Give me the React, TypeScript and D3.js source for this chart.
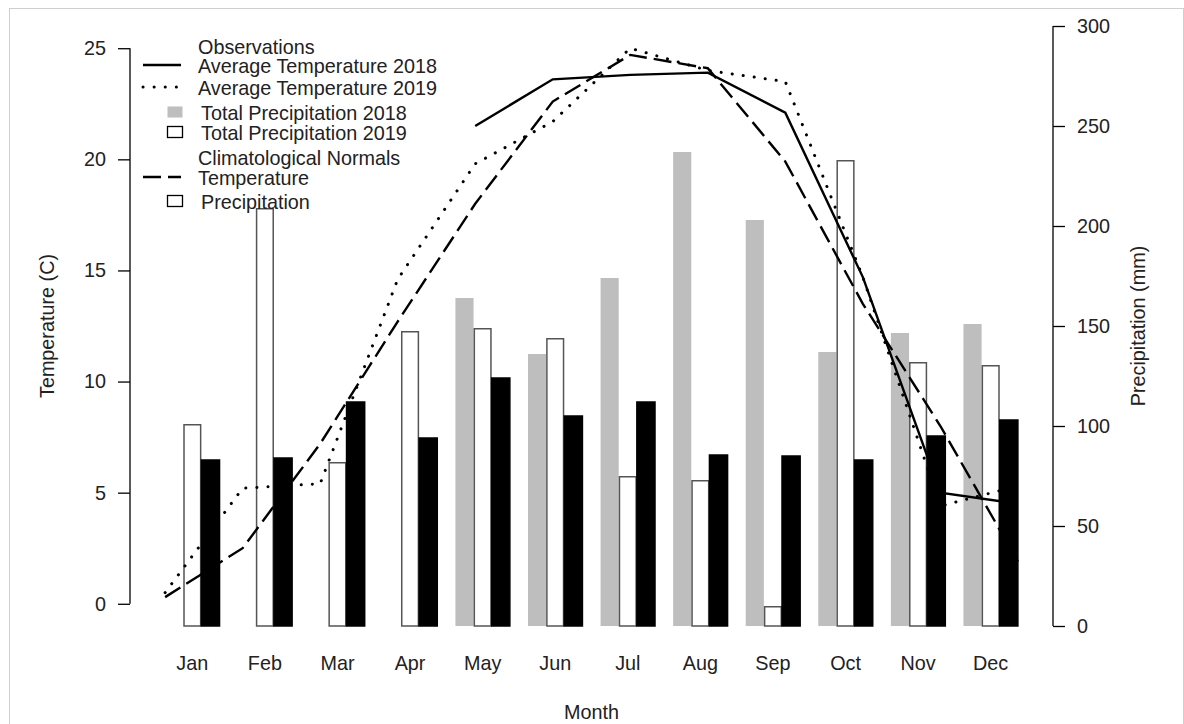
import React, { useEffect, useRef } from 'react'
import * as d3 from 'd3'

const months = ['Jan', 'Feb', 'Mar', 'Apr', 'May', 'Jun', 'Jul', 'Aug', 'Sep', 'Oct', 'Nov', 'Dec']
const temp2018: (number | null)[] = [null, null, null, null, 21.5, 23.6, 23.8, 23.9, 22.1, 14.7, 5.0, 4.5]
const temp2019: (number | null)[] = [0.5, 5.2, 5.4, 14.6, 19.8, 21.7, 25.0, 24.0, 23.5, 14.7, 4.4, 5.3]
const tempNormal: (number | null)[] = [0.3, 2.5, 7.2, 12.7, 18.0, 22.6, 24.7, 24.1, 19.9, 13.5, 8.0, 1.9]
const precip2018: (number | null)[] = [null, null, null, null, 164, 136, 174, 237, 203, 137, 146.5, 151]
const precip2019: (number | null)[] = [101, 209, 82, 147.5, 149, 144, 75, 73, 10, 233, 132, 130.5]
const precipNormal: (number | null)[] = [83, 84, 112, 94, 124, 105, 112, 85.5, 85, 83, 95, 103]
const tempTicks = [0, 5, 10, 15, 20, 25]
const precipTicks = [0, 50, 100, 150, 200, 250, 300]

const FONT = '"Liberation Sans", Arial, sans-serif'
const FS = 19.8
const TXT = '#222'

export default function App() {
    const svgRef = useRef<SVGSVGElement>(null)

    useEffect(() => {
        const left = 131
        const right = 1052
        const top = 26
        const bottom = 626

        const svg = d3.select(svgRef.current)
        svg.selectAll('*').remove()

        // frame of the image
        svg.append('rect')
            .attr('x', 9.5).attr('y', 8.5)
            .attr('width', 1174).attr('height', 716)
            .attr('fill', 'none').attr('stroke', '#cfcfcf')

        // bar units like R barplot (beside, space = c(0,1)), x from 1 to 48 padded 4%
        const barX = d3.scaleLinear().domain([-0.88, 49.88]).range([left, right])
        const xMonth = d3.scaleBand().domain(months).range([barX(0), barX(48)])
        const xSeries = d3.scaleBand()
            .domain(['gap', 'p2018', 'p2019', 'norm'])
            .range([0, xMonth.bandwidth()])

        const lineX = d3.scaleLinear().domain([0.56, 12.44]).range([left, right])
        const tempY = d3.scaleLinear().domain([-1, 26]).range([bottom, top])
        const precipY = d3.scaleLinear().domain([0, 300]).range([bottom, top])

        const series = [
            { key: 'p2018', values: precip2018, fill: '#bebebe', stroke: 'none' },
            { key: 'p2019', values: precip2019, fill: '#ffffff', stroke: '#555' },
            { key: 'norm', values: precipNormal, fill: '#000000', stroke: '#000' },
        ]

        const bars = svg.append('g')
        series.forEach((s) => {
            const data = months
                .map((m, i) => ({ m, v: s.values[i] }))
                .filter((d) => d.v !== null) as { m: string; v: number }[]
            const inset = s.stroke === '#555' ? 0.75 : 0
            bars.selectAll('rect.' + s.key)
                .data(data)
                .enter()
                .append('rect')
                .attr('class', s.key)
                .attr('x', (d) => (xMonth(d.m) as number) + (xSeries(s.key) as number) + inset)
                .attr('width', xSeries.bandwidth() - inset * 2)
                .attr('y', (d) => precipY(d.v) + inset)
                .attr('height', (d) => bottom - precipY(d.v) - inset)
                .attr('fill', s.fill)
                .attr('stroke', s.stroke)
                .attr('stroke-width', s.stroke === 'none' ? 0 : 1.5)
        })

        const lines = [
            { values: temp2018, dash: null },
            { values: temp2019, dash: '0.1 11' },
            { values: tempNormal, dash: '18 7' },
        ]
        const lineGen = d3.line<number | null>()
            .defined((d) => d !== null)
            .x((d, i) => lineX(i + 1))
            .y((d) => tempY(d as number))

        lines.forEach((l) => {
            svg.append('path')
                .attr('d', lineGen(l.values))
                .attr('fill', 'none')
                .attr('stroke', '#000')
                .attr('stroke-width', l.dash === '0.1 11' ? 3 : 2.4)
                .attr('stroke-linecap', l.dash === '0.1 11' ? 'round' : 'butt')
                .attr('stroke-dasharray', l.dash)
        })

        // left axis
        const gl = svg.append('g')
            .attr('transform', `translate(${left - 1},0)`)
            .call(d3.axisLeft(tempY).tickValues(tempTicks).tickSize(12).tickPadding(12))
        gl.select('.domain').remove()
        gl.append('line')
            .attr('y1', tempY(0)).attr('y2', tempY(25))
            .attr('stroke', '#000').attr('stroke-width', 1.3)

        // right axis
        const gr = svg.append('g')
            .attr('transform', `translate(${right + 1},0)`)
            .call(d3.axisRight(precipY).tickValues(precipTicks).tickSize(12).tickPadding(12))
        gr.select('.domain').remove()
        gr.append('line')
            .attr('y1', precipY(0)).attr('y2', precipY(300))
            .attr('stroke', '#000').attr('stroke-width', 1.3)

        svg.selectAll('.tick line').attr('stroke', '#000').attr('stroke-width', 1.3)
        svg.selectAll('.tick text')
            .attr('font-family', FONT)
            .attr('font-size', FS)
            .attr('fill', TXT)

        // month names
        svg.append('g')
            .selectAll('text')
            .data(months)
            .enter()
            .append('text')
            .attr('x', (m) => (xMonth(m) as number) + (xSeries('p2019') as number) + xSeries.bandwidth() / 2)
            .attr('y', 670)
            .attr('text-anchor', 'middle')
            .attr('font-family', FONT)
            .attr('font-size', FS)
            .attr('fill', TXT)
            .text((m) => m)

        const label = (x: number, y: number, t: string, rot: number) =>
            svg.append('text')
                .attr('transform', `translate(${x},${y}) rotate(${rot})`)
                .attr('text-anchor', 'middle')
                .attr('dominant-baseline', 'central')
                .attr('font-family', FONT)
                .attr('font-size', FS)
                .attr('fill', TXT)
                .text(t)

        label((left + right) / 2, 712, 'Month', 0)
        label(47, (top + bottom) / 2, 'Temperature (C)', -90)
        label(1138, (top + bottom) / 2, 'Precipitation (mm)', -90)

        // legend
        const lg = svg.append('g')
            .attr('font-family', FONT)
            .attr('font-size', FS)
            .attr('fill', TXT)
        const rows = [
            { t: 'Observations', y: 47, x: 198, sym: 'none' },
            { t: 'Average Temperature 2018', y: 66, x: 198, sym: 'solid' },
            { t: 'Average Temperature 2019', y: 88, x: 198, sym: 'dot' },
            { t: 'Total Precipitation 2018', y: 113, x: 201, sym: 'gray' },
            { t: 'Total Precipitation 2019', y: 133, x: 201, sym: 'white' },
            { t: 'Climatological Normals', y: 158, x: 198, sym: 'none' },
            { t: 'Temperature', y: 178, x: 198, sym: 'dash' },
            { t: 'Precipitation', y: 202, x: 201, sym: 'white' },
        ]
        rows.forEach((r) => {
            lg.append('text')
                .attr('x', r.x).attr('y', r.y)
                .attr('dominant-baseline', 'central')
                .text(r.t)
            if (r.sym === 'solid' || r.sym === 'dot' || r.sym === 'dash') {
                lg.append('line')
                    .attr('x1', 143).attr('x2', 181)
                    .attr('y1', r.y - 1).attr('y2', r.y - 1)
                    .attr('stroke', '#000')
                    .attr('stroke-width', r.sym === 'dot' ? 3 : 2.4)
                    .attr('stroke-linecap', r.sym === 'dot' ? 'round' : 'butt')
                    .attr('stroke-dasharray', r.sym === 'dot' ? '0.1 11' : r.sym === 'dash' ? '18 7' : null)
            } else if (r.sym === 'gray' || r.sym === 'white') {
                lg.append('rect')
                    .attr('x', 167.5).attr('y', r.y - 6.5)
                    .attr('width', 15).attr('height', 11)
                    .attr('fill', r.sym === 'gray' ? '#bebebe' : '#fff')
                    .attr('stroke', r.sym === 'gray' ? 'none' : '#000')
                    .attr('stroke-width', 1.3)
            }
        })
    }, [])

    return (
        <svg
            ref={svgRef}
            width={1184}
            height={724}
            style={{ position: 'absolute', left: 0, top: 0, background: '#fff' }}
        />
    )
}
